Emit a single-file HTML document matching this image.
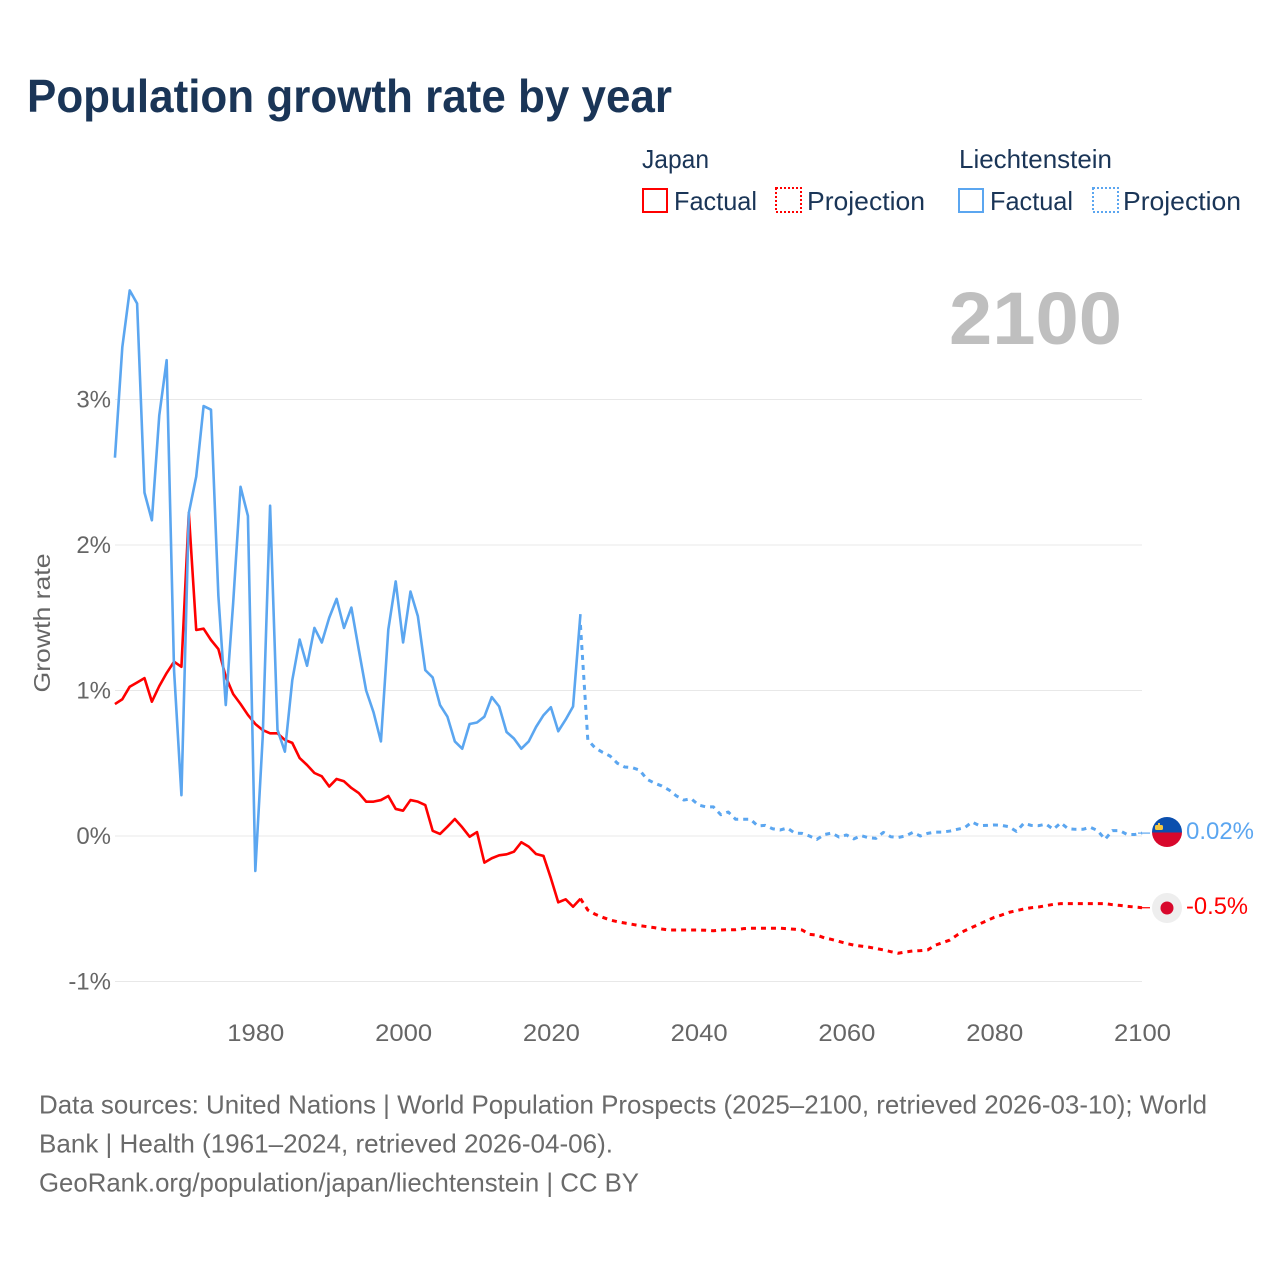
<!DOCTYPE html>
<html lang="en">
<head>
<meta charset="utf-8">
<title>Population growth rate by year</title>
<style>
html,body{margin:0;padding:0;background:#fff;width:1280px;height:1280px;overflow:hidden}
svg{display:block}
text{font-family:"Liberation Sans",sans-serif}
</style>
</head>
<body>
<svg id="chart" xmlns="http://www.w3.org/2000/svg" width="1280" height="1280" viewBox="0 0 1280 1280">
  <rect x="0" y="0" width="1280" height="1280" fill="#fff"/>
  <text x="27" y="112" font-size="46" font-weight="700" fill="#1a3557" textLength="645" lengthAdjust="spacingAndGlyphs">Population growth rate by year</text>

  <g font-size="26" fill="#1a3557">
    <text x="642" y="168" textLength="67" lengthAdjust="spacingAndGlyphs">Japan</text>
    <text x="959" y="168" textLength="153" lengthAdjust="spacingAndGlyphs">Liechtenstein</text>
    <rect x="643" y="189" width="24" height="23" fill="none" stroke="#ff0000" stroke-width="2"/>
    <text x="674" y="210" textLength="83" lengthAdjust="spacingAndGlyphs">Factual</text>
    <rect x="776" y="188" width="25" height="24" fill="none" stroke="#ff0000" stroke-width="2" stroke-dasharray="2 2"/>
    <text x="807" y="210" textLength="118" lengthAdjust="spacingAndGlyphs">Projection</text>
    <rect x="959" y="189" width="24" height="23" fill="none" stroke="#5ba6f0" stroke-width="2"/>
    <text x="990" y="210" textLength="83" lengthAdjust="spacingAndGlyphs">Factual</text>
    <rect x="1093" y="188" width="25" height="24" fill="none" stroke="#5ba6f0" stroke-width="2" stroke-dasharray="2 2"/>
    <text x="1123" y="210" textLength="118" lengthAdjust="spacingAndGlyphs">Projection</text>
  </g>

  <text x="949" y="344" font-size="74" font-weight="700" fill="#bfbfbf" textLength="173" lengthAdjust="spacingAndGlyphs">2100</text>
  <text transform="translate(50,623) rotate(-90)" text-anchor="middle" font-size="23" fill="#666" textLength="139" lengthAdjust="spacingAndGlyphs">Growth rate</text>

  <g id="grid"></g>
  <g id="yticks"></g>
  <g id="xticks"></g>
  <g id="series"></g>

  <g>
    <clipPath id="lieClip"><circle cx="1167" cy="832" r="15"/></clipPath>
    <g clip-path="url(#lieClip)">
      <rect x="1152" y="817" width="30" height="15.5" fill="#0b4fae"/>
      <rect x="1152" y="832.5" width="30" height="15" fill="#d8082c"/>
      <rect x="1155" y="825" width="8" height="5" rx="1.5" fill="#f3c63f"/>
      <rect x="1158" y="823" width="2" height="3" fill="#f3c63f"/>
    </g>
  </g>
  <g>
    <circle cx="1167" cy="908" r="15" fill="#eeeeee"/>
    <circle cx="1167" cy="908" r="6.5" fill="#d8082c"/>
  </g>
  <text x="1186" y="839" font-size="24" fill="#5ba6f0" textLength="68" lengthAdjust="spacingAndGlyphs">0.02%</text>
  <text x="1186" y="914" font-size="24" fill="#ff0000" textLength="62" lengthAdjust="spacingAndGlyphs">-0.5%</text>

  <g font-size="26" fill="#6a6a6a">
    <text x="39" y="1113.5" textLength="1168" lengthAdjust="spacingAndGlyphs">Data sources: United Nations | World Population Prospects (2025–2100, retrieved 2026-03-10); World</text>
    <text x="39" y="1152.5" textLength="574" lengthAdjust="spacingAndGlyphs">Bank | Health (1961–2024, retrieved 2026-04-06).</text>
    <text x="39" y="1191.5" textLength="600" lengthAdjust="spacingAndGlyphs">GeoRank.org/population/japan/liechtenstein | CC BY</text>
  </g>
</svg>
<script>
const yTickValues = [3, 2, 1, 0, -1];
const xTickYears = [1980, 2000, 2020, 2040, 2060, 2080, 2100];
const factualStartYear = 1961;
const projectionStartYear = 2024;

const liechtensteinFactual = [2.60,3.36,3.75,3.66,2.36,2.17,2.89,3.27,1.14,0.28,2.22,2.47,2.955,2.93,1.65,0.90,1.60,2.40,2.20,-0.24,0.68,2.27,0.73,0.58,1.07,1.35,1.17,1.43,1.33,1.50,1.63,1.43,1.57,1.28,1.00,0.85,0.65,1.42,1.75,1.33,1.68,1.51,1.14,1.09,0.90,0.82,0.65,0.60,0.77,0.78,0.82,0.955,0.89,0.715,0.67,0.60,0.65,0.75,0.83,0.885,0.72,0.80,0.89,1.525];
const liechtensteinProjection = [1.45,0.66,0.605,0.575,0.55,0.50,0.474,0.47,0.453,0.39,0.364,0.344,0.316,0.275,0.247,0.256,0.213,0.20,0.20,0.146,0.165,0.115,0.115,0.115,0.069,0.073,0.05,0.041,0.055,0.02,0.018,0,-0.023,0.01,0.02,-0.007,0.007,-0.02,0.002,-0.012,-0.016,0.025,-0.005,-0.01,0,0.025,0,0.018,0.027,0.027,0.034,0.046,0.057,0.096,0.071,0.073,0.076,0.073,0.064,0.032,0.087,0.073,0.071,0.082,0.046,0.09,0.05,0.046,0.046,0.06,0.037,-0.023,0.037,0.037,0.01,0.01,0.02];
const japanFactual = [0.907,0.94,1.026,1.055,1.085,0.923,1.03,1.12,1.198,1.163,2.22,1.416,1.425,1.347,1.285,1.095,0.976,0.907,0.832,0.77,0.728,0.706,0.706,0.66,0.64,0.536,0.488,0.433,0.41,0.34,0.392,0.376,0.33,0.295,0.236,0.236,0.247,0.275,0.186,0.174,0.247,0.236,0.213,0.036,0.014,0.064,0.117,0.06,-0.005,0.027,-0.183,-0.153,-0.133,-0.126,-0.108,-0.043,-0.073,-0.124,-0.137,-0.29,-0.456,-0.435,-0.486,-0.431];
const japanProjection = [-0.43,-0.509,-0.538,-0.559,-0.577,-0.589,-0.598,-0.607,-0.616,-0.623,-0.63,-0.639,-0.646,-0.646,-0.646,-0.646,-0.646,-0.648,-0.651,-0.646,-0.644,-0.644,-0.637,-0.634,-0.634,-0.634,-0.634,-0.634,-0.637,-0.641,-0.646,-0.676,-0.681,-0.70,-0.711,-0.725,-0.739,-0.75,-0.757,-0.764,-0.773,-0.783,-0.795,-0.806,-0.797,-0.79,-0.788,-0.783,-0.751,-0.733,-0.715,-0.68,-0.651,-0.628,-0.605,-0.582,-0.559,-0.543,-0.525,-0.513,-0.502,-0.493,-0.488,-0.479,-0.47,-0.465,-0.465,-0.465,-0.465,-0.465,-0.465,-0.465,-0.472,-0.477,-0.483,-0.488,-0.493];

const NS = 'http://www.w3.org/2000/svg';
function xScale(year) { return 1142 - (2100 - year) * 7.389; }
function yScale(value) { return 836 - value * 145.5; }

function make(tag, attrs, parent, text) {
  const el = document.createElementNS(NS, tag);
  for (const k in attrs) el.setAttribute(k, attrs[k]);
  if (text !== undefined) el.textContent = text;
  parent.appendChild(el);
  return el;
}
function pointsFor(values, startYear) {
  return values.map(function (v, i) {
    return xScale(startYear + i).toFixed(2) + ',' + yScale(v).toFixed(2);
  }).join(' ');
}

const grid = document.getElementById('grid');
const yticks = document.getElementById('yticks');
const xticks = document.getElementById('xticks');
const series = document.getElementById('series');

yTickValues.forEach(function (v) {
  const line = make('line', { x1: 115, x2: 1142, y1: yScale(v), y2: yScale(v), stroke: '#e8e8e8', 'stroke-width': 1 }, grid);
  
  
  const label = make('text', { x: 111, y: yScale(v) + 8, 'text-anchor': 'end', 'font-size': 24, fill: '#666' }, yticks, v + '%');
  
  
});
xTickYears.forEach(function (y) {
  const label = make('text', { x: xScale(y) + 0.5, y: 1041, 'text-anchor': 'middle', 'font-size': 24, fill: '#666', textLength: 57, lengthAdjust: 'spacingAndGlyphs' }, xticks, String(y));
  
  
});

function drawLine(values, startYear, color, dashed, name) {
  const attrs = { points: pointsFor(values, startYear), fill: 'none', stroke: color, 'stroke-width': dashed ? 3 : 2.6, 'stroke-linejoin': 'round' };
  if (dashed) attrs['stroke-dasharray'] = '5 5';
  const line = make('polyline', attrs, series);
  
  
}
drawLine(japanFactual, factualStartYear, '#ff0000', false, 'japan-factual-line');
drawLine(japanProjection, projectionStartYear, '#ff0000', true, 'japan-projection-line');
drawLine(liechtensteinFactual, factualStartYear, '#5ba6f0', false, 'liechtenstein-factual-line');
drawLine(liechtensteinProjection, projectionStartYear, '#5ba6f0', true, 'liechtenstein-projection-line');

function drawConnector(values, color, name) {
  const last = values[values.length - 1];
  const line = make('line', { x1: xScale(2100) - 4, x2: 1150, y1: yScale(last), y2: yScale(last), stroke: color, 'stroke-width': 1.2 }, series);
  
  
}
drawConnector(japanProjection, '#ff0000', 'japan-end-connector');
drawConnector(liechtensteinProjection, '#5ba6f0', 'liechtenstein-end-connector');
</script>
</body>
</html>
